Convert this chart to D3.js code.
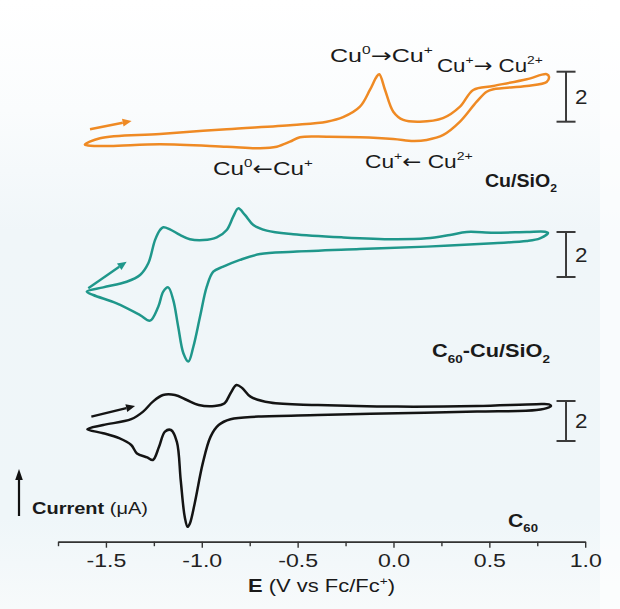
<!DOCTYPE html>
<html><head><meta charset="utf-8">
<script src="https://cdn.jsdelivr.net/npm/d3@7/dist/d3.min.js"></script>
<style>body{margin:0;background:#fff}svg{display:block}</style>
</head><body>
<svg id="c" width="620" height="609"></svg>
<script>
// ---------- data ----------
const xTicksMajor = [-1.5, -1.0, -0.5, 0.0, 0.5, 1.0];
const xTicksMinor = [-1.75, -1.25, -0.75, -0.25, 0.25, 0.75];
const xDomain = [-1.75, 1.0];

// Cu/SiO2 (orange) loop: E (V), I (uA, relative)
const cuE = [-1.61,-1.531,-1.218,-0.870,-0.524,-0.348,-0.263,-0.175,-0.123,-0.088,-0.074,-0.044,-0.001,0.051,0.138,0.258,0.347,0.416,0.521,0.695,0.799,0.811,
             0.799,0.695,0.521,0.486,0.434,0.347,0.260,0.173,0.103,-0.001,-0.175,-0.348,-0.488,-0.540,-0.609,-0.696,-0.870,-1.218,-1.479,-1.594];
const cuI = [-0.92,-0.66,-0.49,-0.30,-0.13,0.00,0.18,0.60,1.27,1.80,1.90,1.27,0.40,0.07,0.00,0.14,0.60,1.27,1.43,1.70,1.90,1.80,
             1.59,1.43,1.30,1.20,0.80,0.00,-0.53,-0.73,-0.77,-0.69,-0.62,-0.60,-0.62,-0.80,-1.00,-1.06,-1.00,-0.90,-0.97,-0.95];

// C60-Cu/SiO2 (teal) loop
const c60CuE = [-1.600,-1.514,-1.392,-1.322,-1.279,-1.244,-1.218,-1.201,-1.166,-1.114,-1.062,-0.992,-0.922,-0.870,-0.836,-0.810,-0.775,-0.731,-0.661,-0.523,-0.262,-0.001,0.173,0.295,0.382,0.521,0.695,0.790,0.806,
                0.764,0.695,0.521,0.173,-0.175,-0.523,-0.696,-0.801,-0.888,-0.940,-0.974,-1.009,-1.044,-1.070,-1.096,-1.123,-1.149,-1.175,-1.201,-1.227,-1.270,-1.322,-1.444,-1.566];
const c60CuI = [-0.65,-0.46,-0.21,0.09,0.61,1.64,2.09,2.21,2.12,1.87,1.68,1.64,1.76,2.09,2.68,3.05,2.76,2.31,2.06,1.90,1.76,1.68,1.72,1.87,2.00,1.97,2.00,2.01,1.96,
                1.72,1.60,1.50,1.35,1.24,1.12,1.02,0.76,0.46,0.24,-0.43,-1.76,-3.10,-3.76,-3.39,-2.21,-1.02,-0.46,-0.65,-1.32,-1.94,-1.69,-1.17,-0.80];

// C60 (black) loop
const c60E = [-1.597,-1.514,-1.368,-1.306,-1.255,-1.202,-1.140,-1.078,-1.016,-0.933,-0.881,-0.850,-0.819,-0.788,-0.746,-0.643,-0.394,0.021,0.436,0.746,0.811,0.822,
              0.811,0.746,0.436,0.021,-0.394,-0.705,-0.850,-0.912,-0.954,-0.995,-1.037,-1.062,-1.074,-1.089,-1.110,-1.130,-1.161,-1.192,-1.223,-1.255,-1.285,-1.338,-1.368,-1.431,-1.514];
const c60I = [0.59,0.80,1.09,1.47,1.97,2.30,2.30,2.05,1.80,1.75,1.89,2.39,2.80,2.64,2.22,1.92,1.80,1.72,1.75,1.84,1.83,1.75,
              1.68,1.55,1.47,1.39,1.30,1.22,1.09,0.80,0.22,-1.12,-3.12,-4.12,-4.29,-3.79,-1.95,-0.04,0.55,0.47,-0.29,-0.95,-0.82,-0.62,-0.20,0.14,0.39];

// scan-direction arrows [E0, I0, E1, I1]
const cuArrow = [-1.583, -0.30, -1.366, 0.03];
const c60CuArrow = [-1.592, -0.50, -1.392, 0.68];
const c60Arrow = [-1.576, 1.22, -1.348, 1.75];

const scaleBarValue = 2;     // uA
const scaleBarE = 0.90;

// ---------- setup ----------
const svg = d3.select("#c");
const FONT = "'Liberation Sans', Arial, Helvetica, sans-serif";
const ARROWFONT = "'DejaVu Sans', sans-serif";

const defs = svg.append("defs");
const bg = defs.append("linearGradient").attr("id","bg").attr("x1",0).attr("y1",0).attr("x2",0).attr("y2",1);
[[0,"#ffffff"],[0.18,"#fafcfd"],[0.38,"#f0f6f9"],[0.85,"#eff6f9"],[1,"#f7fafb"]].forEach(([o,c]) =>
  bg.append("stop").attr("offset",o).attr("stop-color",c));
svg.append("rect").attr("width",620).attr("height",609).attr("fill","url(#bg)");
svg.append("rect").attr("x",600).attr("width",20).attr("height",609).attr("fill","#ffffff").attr("opacity",0.6);

const x = d3.scaleLinear().domain(xDomain).range([58, 585.2]);

const panels = [
  {E: cuE, I: cuI, arrow: cuArrow, color: "#ef8a24", y: d3.scaleLinear().domain([0, 2]).range([121.7, 71.7])},
  {E: c60CuE, I: c60CuI, arrow: c60CuArrow, color: "#1f978b", y: d3.scaleLinear().domain([0, 2]).range([277, 232])},
  {E: c60E, I: c60I, arrow: c60Arrow, color: "#141414", y: d3.scaleLinear().domain([0, 2]).range([441, 401])}
];

panels.forEach(p => {
  const pts = p.E.map((e, i) => [e, p.I[i]]);
  const line = d3.line().x(d => x(d[0])).y(d => p.y(d[1])).curve(d3.curveCatmullRomClosed.alpha(0.5));
  svg.append("path").attr("d", line(pts)).attr("fill","none").attr("stroke", p.color)
    .attr("stroke-width", 2.5).attr("stroke-linejoin","round");

  // scan arrow
  const [e0, i0, e1, i1] = p.arrow;
  const x0 = x(e0), y0 = p.y(i0), x1 = x(e1), y1 = p.y(i1);
  const ang = Math.atan2(y1 - y0, x1 - x0);
  const hl = 9, hw = 4;
  const bx = x1 - hl * Math.cos(ang), by = y1 - hl * Math.sin(ang);
  svg.append("line").attr("x1", x0).attr("y1", y0).attr("x2", bx).attr("y2", by)
    .attr("stroke", p.color).attr("stroke-width", 2.4);
  svg.append("polygon").attr("fill", p.color).attr("points", [
    [x1, y1],
    [bx + hw * Math.sin(ang), by - hw * Math.cos(ang)],
    [bx - hw * Math.sin(ang), by + hw * Math.cos(ang)]
  ].map(d => d.join(",")).join(" "));

  // scale bar
  const sx = x(scaleBarE), ya = p.y(0), yb = p.y(scaleBarValue);
  const g = svg.append("g").attr("stroke","#3a3a3a").attr("stroke-width",2);
  g.append("line").attr("x1",sx).attr("x2",sx).attr("y1",ya).attr("y2",yb);
  g.append("line").attr("x1",sx-9.5).attr("x2",sx+9.5).attr("y1",ya).attr("y2",ya);
  g.append("line").attr("x1",sx-9.5).attr("x2",sx+9.5).attr("y1",yb).attr("y2",yb);
  svg.append("text").attr("x", sx + 9).attr("y", (ya + yb) / 2 + 7.5)
    .attr("font-family", FONT).attr("font-size", 20).attr("fill","#222")
    .attr("transform", `translate(${sx + 9},0) scale(1.12,1) translate(${-(sx + 9)},0)`)
    .text(String(scaleBarValue));
});

// ---------- axis ----------
const axisY = 541.7;
const gMinor = svg.append("g").attr("transform", `translate(0,${axisY})`)
  .call(d3.axisBottom(x).tickValues(xTicksMinor).tickSize(4.5).tickSizeOuter(0).tickFormat(""));
const gMajor = svg.append("g").attr("transform", `translate(0,${axisY})`)
  .call(d3.axisBottom(x).tickValues(xTicksMajor).tickSize(6).tickSizeOuter(0).tickFormat(d => d.toFixed(1)));
[gMinor, gMajor].forEach(g => {
  g.select(".domain").attr("stroke","#333").attr("stroke-width",1.6);
  g.selectAll(".tick line").attr("stroke","#333").attr("stroke-width",1.4);
});
gMajor.selectAll(".tick text").attr("y", 25.5).attr("dy", 0)
  .attr("font-family", FONT).attr("font-size", 18.5).attr("fill","#222")
  .attr("transform","scale(1.25,1)");

// ---------- text helper ----------
function rich(parent, left, baseline, width, parts, size, color) {
  const g = parent.append("g").attr("transform", `translate(${left},${baseline})`);
  const t = g.append("text").attr("font-family", FONT).attr("font-size", size).attr("fill", color || "#1a1a1a");
  let shift = 0;
  parts.forEach(([s, k, bold, fam]) => {
    let target = 0, fs = size;
    if (k === "sup") { target = -0.42 * size; fs = size * 0.62; }
    else if (k === "sub") { target = 0.32 * size; fs = size * 0.62; }
    const sp = t.append("tspan").text(s).attr("font-size", fs).attr("dy", target - shift);
    if (bold) sp.attr("font-weight", "bold");
    if (fam) sp.attr("font-family", fam);
    shift = target;
  });
  const w = t.node().getBBox().width;
  g.attr("transform", `translate(${left},${baseline}) scale(${width / w},1)`);
}

// axis title
rich(svg, 248, 592, 147, [["E","n",true],[" (V vs Fc/Fc","n"],["+","sup"],[")","n"]], 17.5);
// current label
rich(svg, 32, 514, 116, [["Current","n",true],[" (\u03bcA)","n"]], 17);
svg.append("line").attr("x1",19).attr("x2",19).attr("y1",516).attr("y2",478).attr("stroke","#111").attr("stroke-width",2.2);
svg.append("polygon").attr("points","19,469 15.2,480 22.8,480").attr("fill","#111");

// annotations
rich(svg, 330, 61.7, 103, [["Cu","n"],["0","sup"],["\u2192","n",false,ARROWFONT],["Cu","n"],["+","sup"]], 19);
rich(svg, 437, 71.7, 106, [["Cu","n"],["+","sup"],["\u2192","n",false,ARROWFONT],[" Cu","n"],["2+","sup"]], 19);
rich(svg, 213, 175, 100, [["Cu","n"],["0","sup"],["\u2190","n",false,ARROWFONT],["Cu","n"],["+","sup"]], 19);
rich(svg, 365, 168.3, 108, [["Cu","n"],["+","sup"],["\u2190","n",false,ARROWFONT],[" Cu","n"],["2+","sup"]], 19);

// series labels
rich(svg, 485, 186.7, 72, [["Cu/SiO","n",true],["2","sub",true]], 17.5);
rich(svg, 432, 357, 118, [["C","n",true],["60","sub",true],["-Cu/SiO","n",true],["2","sub",true]], 17.5);
rich(svg, 508, 526.7, 30, [["C","n",true],["60","sub",true]], 17.5);
</script>
</body></html>
